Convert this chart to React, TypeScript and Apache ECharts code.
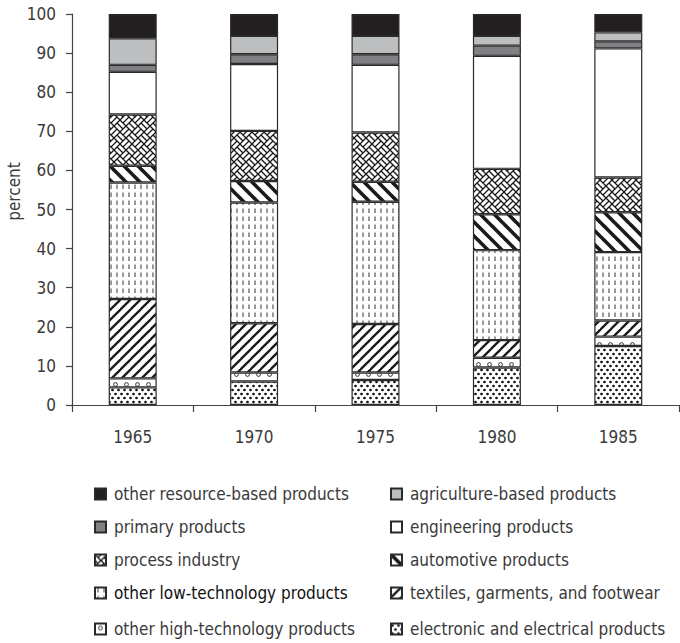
import { useEffect, useRef } from "react";
import * as echarts from "echarts";

const years = ["1965", "1970", "1975", "1980", "1985"];
const yTicks = { min: 0, max: 100, interval: 10 };

// stacking order, bottom → top
const electronic = [4.5, 6.0, 6.4, 9.6, 15.1];
const otherHighTech = [2.3, 2.3, 1.9, 2.5, 2.4];
const textiles = [20.3, 12.6, 12.4, 4.5, 4.1];
const otherLowTech = [29.8, 30.9, 31.3, 23.0, 17.5];
const automotive = [4.3, 5.5, 5.1, 9.2, 10.2];
const processIndustry = [13.1, 12.8, 12.6, 11.6, 8.9];
const engineering = [10.9, 17.1, 17.3, 28.9, 33.0];
const primary = [1.8, 2.5, 2.7, 2.6, 1.8];
const agriculture = [6.8, 4.7, 4.7, 2.5, 2.3];
const otherResource = [6.2, 5.6, 5.6, 5.6, 4.7];

const names = {
  electronic: "electronic and electrical products",
  otherHighTech: "other high-technology products",
  textiles: "textiles, garments, and footwear",
  otherLowTech: "other low-technology products",
  automotive: "automotive products",
  processIndustry: "process industry",
  engineering: "engineering products",
  primary: "primary products",
  agriculture: "agriculture-based products",
  otherResource: "other resource-based products",
};

const FONT = "'DejaVu Sans Condensed', 'Liberation Sans Narrow', sans-serif";
const FS = 17;
const INK = "#1a1a1a";
const TEXT = "#3a3a3a";

type Draw = (ctx: CanvasRenderingContext2D, w: number, h: number) => void;

function pattern(w: number, h: number, draw: Draw): any {
  const c = document.createElement("canvas");
  c.width = w;
  c.height = h;
  const ctx = c.getContext("2d")!;
  ctx.fillStyle = "#ffffff";
  ctx.fillRect(0, 0, w, h);
  draw(ctx, w, h);
  return { image: c, repeat: "repeat", imageWidth: w, imageHeight: h };
}

function buildPatterns() {
  const dots = pattern(6, 8, (ctx) => {
    ctx.fillStyle = "#111";
    [[1.5, 2], [4.5, 6]].forEach(([x, y]) => {
      ctx.beginPath();
      ctx.arc(x, y, 1.35, 0, Math.PI * 2);
      ctx.fill();
    });
  });
  const circles = pattern(11, 10, (ctx) => {
    ctx.strokeStyle = "#333";
    ctx.lineWidth = 1;
    ctx.beginPath();
    ctx.arc(5.5, 4.5, 1.9, 0, Math.PI * 2);
    ctx.stroke();
  });
  const fwd = pattern(10, 10, (ctx) => {
    ctx.strokeStyle = INK;
    ctx.lineWidth = 2.3;
    [0, 10, 20].forEach((c) => {
      ctx.beginPath();
      ctx.moveTo(c + 1, -1);
      ctx.lineTo(c - 11, 11);
      ctx.stroke();
    });
  });
  const back = pattern(14, 14, (ctx) => {
    ctx.strokeStyle = INK;
    ctx.lineWidth = 3.6;
    [-14, 0, 14].forEach((c) => {
      ctx.beginPath();
      ctx.moveTo(c - 1, -1);
      ctx.lineTo(c + 15, 15);
      ctx.stroke();
    });
  });
  const dashes = pattern(6, 8, (ctx) => {
    ctx.strokeStyle = "#333";
    ctx.lineWidth = 1;
    ctx.beginPath();
    ctx.moveTo(3, 0.5);
    ctx.lineTo(3, 5);
    ctx.stroke();
  });
  const weave = pattern(12, 12, (ctx) => {
    const a = 12 / Math.SQRT2;
    ctx.save();
    ctx.rotate(Math.PI / 4);
    ctx.strokeStyle = INK;
    ctx.lineWidth = 1.3;
    for (let i = -4; i <= 4; i++) {
      for (let j = -4; j <= 4; j++) {
        const x = i * a;
        const y = j * a;
        ctx.beginPath();
        if ((((i + j) % 2) + 2) % 2 === 0) {
          ctx.moveTo(x, y);
          ctx.lineTo(x + a, y);
          ctx.moveTo(x, y + a / 2);
          ctx.lineTo(x + a, y + a / 2);
          ctx.moveTo(x, y + a);
          ctx.lineTo(x + a, y + a);
        } else {
          ctx.moveTo(x, y);
          ctx.lineTo(x, y + a);
          ctx.moveTo(x + a / 2, y);
          ctx.lineTo(x + a / 2, y + a);
          ctx.moveTo(x + a, y);
          ctx.lineTo(x + a, y + a);
        }
        ctx.stroke();
      }
    }
    ctx.restore();
  });
  return { dots, circles, fwd, back, dashes, weave };
}

export default function App() {
  const ref = useRef<HTMLDivElement>(null);

  useEffect(() => {
    document.body.style.margin = "0";
    if (!ref.current) return;
    const chart = echarts.init(ref.current, undefined, { renderer: "svg" });
    const p = buildPatterns();

    const seriesDefs = [
      { name: names.electronic, data: electronic, color: p.dots },
      { name: names.otherHighTech, data: otherHighTech, color: p.circles },
      { name: names.textiles, data: textiles, color: p.fwd },
      { name: names.otherLowTech, data: otherLowTech, color: p.dashes },
      { name: names.automotive, data: automotive, color: p.back },
      { name: names.processIndustry, data: processIndustry, color: p.weave },
      { name: names.engineering, data: engineering, color: "#ffffff" },
      { name: names.primary, data: primary, color: "#808184" },
      { name: names.agriculture, data: agriculture, color: "#bdbec0" },
      { name: names.otherResource, data: otherResource, color: "#231f20" },
    ];

    const legendOrder = [
      names.otherResource, names.agriculture,
      names.primary, names.engineering,
      names.processIndustry, names.automotive,
      names.otherLowTech, names.textiles,
      names.otherHighTech, names.electronic,
    ];
    const rowCenters = [494, 527, 560, 593, 629];
    const colLefts = [94, 390];

    const legends = legendOrder.map((n, k) => ({
      data: [n],
      left: colLefts[k % 2],
      top: rowCenters[Math.floor(k / 2)] - 10,
      padding: 0,
      orient: "horizontal",
      icon: "rect",
      itemWidth: 11,
      itemHeight: 11,
      selectedMode: false,
      textStyle: {
        fontFamily: FONT,
        fontSize: FS,
        lineHeight: 20,
        color: n === names.otherLowTech ? "#111111" : TEXT,
        padding: [0, 0, 0, 3],
      },
    }));

    chart.setOption({
      animation: false,
      backgroundColor: "#ffffff",
      grid: { left: 72, right: 1, top: 14, bottom: 238, containLabel: false, outerBoundsMode: "none" },
      legend: legends,
      xAxis: {
        type: "category",
        data: years,
        boundaryGap: true,
        axisLine: { show: true, lineStyle: { color: "#444", width: 1.2 } },
        axisTick: { show: true, length: 7, lineStyle: { color: "#444", width: 1.2 } },
        axisLabel: { margin: 23, fontSize: FS, fontFamily: FONT, color: TEXT },
      },
      yAxis: {
        type: "value",
        min: yTicks.min,
        max: yTicks.max,
        interval: yTicks.interval,
        name: "percent",
        nameLocation: "middle",
        nameGap: 50,
        nameMoveOverlap: false,
        nameTextStyle: { fontSize: FS, fontFamily: FONT, color: TEXT, padding: [0, 0, 0, 36] },
        axisLine: { show: true, lineStyle: { color: "#444", width: 1.2 } },
        axisTick: { show: true, length: 6, lineStyle: { color: "#444", width: 1.2 } },
        axisLabel: { margin: 16, fontSize: FS, fontFamily: FONT, color: TEXT },
        splitLine: { show: false },
      },
      series: seriesDefs.map((s) => ({
        type: "bar",
        name: s.name,
        stack: "total",
        barWidth: 48,
        data: s.data,
        itemStyle: { color: s.color, borderColor: "#2a2a2a", borderWidth: 1.2 },
        emphasis: { disabled: true },
      })),
    });

    return () => chart.dispose();
  }, []);

  return <div ref={ref} style={{ width: 680, height: 643 }} />;
}
